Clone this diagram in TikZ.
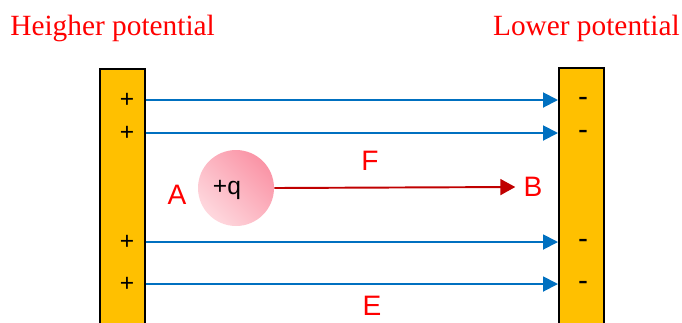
\documentclass[tikz,border=0pt]{standalone}
\usepackage{fontspec}
\setmainfont{Liberation Serif}
\setsansfont{Liberation Sans}
\usepackage{xcolor}
\usetikzlibrary{arrows.meta,positioning,calc}

\definecolor{plategold}{RGB}{255,192,0}
\definecolor{fieldblue}{RGB}{0,112,192}
\definecolor{forcered}{RGB}{192,0,0}
\definecolor{chargedark}{RGB}{250,148,166}
\definecolor{chargelight}{RGB}{254,216,222}

\tikzset{
  plate/.style={draw=black, line width=0.9pt, fill=plategold, minimum width=0.9cm, minimum height=5.6cm, inner sep=0pt},
  sign/.style={font=\sffamily\fontsize{14}{14}\selectfont, inner sep=0pt},
  minus/.style={font=\sffamily\fontsize{17}{17}\selectfont, inner sep=0pt},
  tag/.style={text=red, font=\sffamily\fontsize{16}{16}\selectfont, inner sep=0pt},
  title/.style={text=red, font=\rmfamily\fontsize{16.7}{18}\selectfont, inner sep=0pt},
  fieldline/.style={draw=fieldblue, line width=1.1pt, -{Triangle[length=0.3cm, width=0.3cm]}},
  forceline/.style={draw=forcered, line width=1.1pt, -{Triangle[length=0.3cm, width=0.32cm]}}
}

\begin{document}
\begin{tikzpicture}[x=0.02cm, y=-0.02cm]
        \useasboundingbox (0,0) rectangle (682,322);
        \clip (0,0) rectangle (682,322);

        % ============================================================
        % Titles
        % ============================================================
        \node[title, anchor=base west] (hi) at (10,35) {Heigher potential};
        \node[title, anchor=base east] (lo) at (680,35) {Lower potential};

        % ============================================================
        % Plates
        % ============================================================
        \node[plate, anchor=north west] (lplate) at (99,68) {};
        \node[plate, anchor=north west] (rplate) at (558,67) {};

        \node[sign] (p1) at (127,100) {+};
        \node[sign] (p2) at (127,133) {+};
        \node[sign] (p3) at (127,242) {+};
        \node[sign] (p4) at (127,284) {+};

        \node[minus] (m1) at (583,102) {-};
        \node[minus] (m2) at (583,135) {-};
        \node[minus] (m3) at (583,244) {-};
        \node[minus] (m4) at (583,286) {-};

        % ============================================================
        % Field lines
        % ============================================================
        \draw[fieldline] (lplate.east |- p1) -- (rplate.west |- p1);
        \draw[fieldline] (lplate.east |- p2) -- (rplate.west |- p2);
        \draw[fieldline] (lplate.east |- p3) -- (rplate.west |- p3);
        \draw[fieldline] (lplate.east |- p4) -- (rplate.west |- p4);

        % ============================================================
        % Charge and force
        % ============================================================
        \node[circle, minimum size=1.52cm, inner sep=0pt, top color=chargedark, bottom color=chargelight, shading angle=-45] (q) at (236,188) {};
        \node[sign] (qlabel) at (227,190) {+q};

        \node[tag] (A) at (177,195) {A};
        \node[tag] (B) at (533,187) {B};
        \node[tag] (F) at (370,161) {F};
        \node[tag] (E) at (372,306) {E};

        \draw[forceline] (q.east) -- ([xshift=-0.16cm]B.west);

    \end{tikzpicture}
\end{document}
